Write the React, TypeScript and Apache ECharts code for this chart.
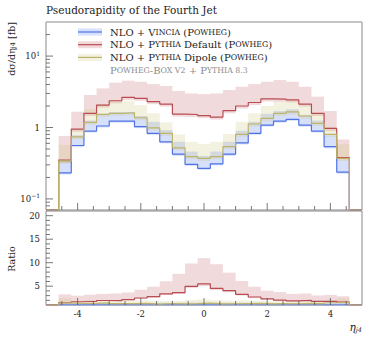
import React, { useEffect, useRef } from "react";
import * as echarts from "echarts";

// ---------- data ----------
const EDGES = [-4.6, -4.2, -3.8, -3.4, -3.0, -2.6, -2.2, -1.8, -1.4, -1.0, -0.6, -0.2, 0.2, 0.6, 1.0, 1.4, 1.8, 2.2, 2.6, 3.0, 3.4, 3.8, 4.2, 4.6];

const vincia = [0.232, 0.56, 0.89, 1.05, 1.23, 1.23, 1.03, 0.83, 0.63, 0.425, 0.305, 0.268, 0.31, 0.425, 0.61, 0.83, 1.08, 1.23, 1.3, 1.08, 0.89, 0.54, 0.238];
const vinciaHi = [0.35, 0.78, 1.25, 1.55, 1.65, 1.65, 1.45, 1.2, 0.92, 0.63, 0.46, 0.4, 0.46, 0.63, 0.9, 1.2, 1.55, 1.7, 1.8, 1.5, 1.25, 0.78, 0.35];
const vinciaLo = [0.22, 0.53, 0.85, 1.0, 1.17, 1.17, 0.98, 0.79, 0.6, 0.4, 0.29, 0.255, 0.295, 0.4, 0.58, 0.79, 1.03, 1.17, 1.24, 1.03, 0.85, 0.51, 0.225];

const pyDef = [0.35, 0.95, 1.58, 2.06, 2.37, 2.64, 2.56, 2.3, 2.13, 1.54, 1.52, 1.47, 1.4, 1.72, 2.0, 2.24, 2.51, 2.49, 2.43, 2.13, 1.58, 0.97, 0.38];
const pyDefHi = [0.76, 1.66, 2.85, 3.53, 4.24, 4.52, 4.37, 4.06, 3.81, 3.24, 3.0, 2.94, 3.0, 3.35, 3.72, 4.06, 4.37, 4.62, 4.37, 3.72, 2.7, 1.7, 0.68];
const pyDefLo = [0.32, 0.87, 1.45, 1.9, 2.18, 2.43, 2.36, 2.12, 1.96, 1.42, 1.4, 1.35, 1.29, 1.58, 1.84, 2.06, 2.31, 2.29, 2.24, 1.96, 1.45, 0.89, 0.35];

const pyDip = [0.34, 0.74, 1.18, 1.53, 1.58, 1.61, 1.37, 0.99, 0.83, 0.52, 0.39, 0.37, 0.39, 0.54, 0.8, 1.12, 1.34, 1.58, 1.65, 1.45, 1.14, 0.8, 0.37];
const pyDipHi = [0.57, 0.95, 1.8, 2.13, 2.37, 2.37, 2.06, 1.58, 1.18, 0.8, 0.63, 0.59, 0.63, 0.81, 1.2, 1.58, 2.0, 2.3, 2.37, 2.06, 1.6, 1.02, 0.58];
const pyDipLo = [0.31, 0.68, 1.09, 1.41, 1.45, 1.48, 1.26, 0.91, 0.76, 0.48, 0.36, 0.34, 0.36, 0.5, 0.74, 1.03, 1.23, 1.45, 1.52, 1.33, 1.05, 0.74, 0.34];

const xMajorTicks = [-4, -2, 0, 2, 4];
const xMinorTicks = [-4.5, -3.5, -3, -2.5, -1.5, -1, -0.5, 0.5, 1, 1.5, 2.5, 3, 3.5, 4.5];
const yMainMajorTicks = [0.1, 1, 10];
const yMainMinorTicks = [0.08, 0.09, 0.2, 0.3, 0.4, 0.5, 0.6, 0.7, 0.8, 0.9, 2, 3, 4, 5, 6, 7, 8, 9, 20];
const yRatioMajorTicks = [5, 10, 15, 20];
const yRatioMinorTicks = [2, 3, 4, 6, 7, 8, 9, 11, 12, 13, 14, 16, 17, 18, 19];

const TITLE = "Pseudorapidity of the Fourth Jet";

// axis ranges
const X_MIN = -5, X_MAX = 5;
const Y_MIN = 0.07, Y_MAX = 30;
const R_MIN = 1, R_MAX = 21;

const FONT = "DejaVu Serif";
const C_BLUE = "#4f72e6", F_BLUE = "rgba(95,130,240,0.25)";
const C_RED = "#b94b52", F_RED = "rgba(190,85,95,0.22)";
const C_YEL = "#bcb36c", F_YEL = "rgba(200,190,110,0.22)";

function ratio(a: number[], ref: number[]) {
  return a.map((v, i) => v / ref[i]);
}

function stepData(vals: number[], floor: number) {
  const pts: number[][] = [[X_MIN, floor]];
  vals.forEach((v, i) => pts.push([EDGES[i], v]));
  pts.push([EDGES[EDGES.length - 1], floor]);
  pts.push([X_MAX, floor]);
  return pts;
}

function bandSeries(lo: number[], hi: number[], fill: string, gi: number) {
  return {
    type: "custom",
    xAxisIndex: gi,
    yAxisIndex: gi,
    silent: true,
    clip: true,
    encode: { x: [0, 1], y: [2, 3] },
    data: lo.map((l, i) => [EDGES[i], EDGES[i + 1], l, hi[i]]),
    renderItem: (params: any, api: any) => {
      const p0 = api.coord([api.value(0), api.value(3)]);
      const p1 = api.coord([api.value(1), api.value(2)]);
      return {
        type: "rect",
        shape: { x: p0[0], y: p0[1], width: p1[0] - p0[0], height: p1[1] - p0[1] },
        style: { fill },
      };
    },
  };
}

function lineSeries(vals: number[], color: string, gi: number, floor: number) {
  return {
    type: "line",
    xAxisIndex: gi,
    yAxisIndex: gi,
    step: "end",
    symbol: "none",
    silent: true,
    lineStyle: { color, width: 1.2 },
    data: stepData(vals, floor),
  };
}

function xTickSeries(gi: number, floor: number) {
  const data = [
    ...xMajorTicks.map((v) => [v, floor, 1]),
    ...xMinorTicks.map((v) => [v, floor, 0]),
  ];
  return {
    type: "custom",
    xAxisIndex: gi,
    yAxisIndex: gi,
    silent: true,
    clip: false,
    z: 10,
    data,
    renderItem: (params: any, api: any) => {
      const p = api.coord([api.value(0), api.value(1)]);
      const len = api.value(2) ? 7 : 4;
      return {
        type: "line",
        shape: { x1: p[0], y1: p[1], x2: p[0], y2: p[1] - len },
        style: { stroke: "#555", lineWidth: 0.8 },
      };
    },
  };
}

function yTickSeries(gi: number, major: number[], minor: number[]) {
  const data = [...major.map((v) => [X_MIN, v, 1]), ...minor.map((v) => [X_MIN, v, 0])];
  return {
    type: "custom",
    xAxisIndex: gi,
    yAxisIndex: gi,
    silent: true,
    clip: false,
    z: 10,
    data,
    renderItem: (params: any, api: any) => {
      const p = api.coord([api.value(0), api.value(1)]);
      const len = api.value(2) ? 7 : 4;
      return {
        type: "line",
        shape: { x1: p[0], y1: p[1], x2: p[0] + len, y2: p[1] },
        style: { stroke: "#555", lineWidth: 0.8 },
      };
    },
  };
}

const legendRows = [
  { text: "NLO + V{sc|INCIA} (P{sc|OWHEG})", line: C_BLUE, fill: F_BLUE },
  { text: "NLO + P{sc|YTHIA} Default (P{sc|OWHEG})", line: C_RED, fill: F_RED },
  { text: "NLO + P{sc|YTHIA} Dipole (P{sc|OWHEG})", line: C_YEL, fill: F_YEL },
];

export default function App() {
  const ref = useRef<HTMLDivElement>(null);
  useEffect(() => {
    if (!ref.current) return;
    const chart = echarts.init(ref.current, null, { renderer: "svg" });

    const rDef = ratio(pyDef, vincia), rDefHi = ratio(pyDefHi, vincia), rDefLo = ratio(pyDefLo, vincia);
    const rDip = ratio(pyDip, vincia), rDipHi = ratio(pyDipHi, vincia), rDipLo = ratio(pyDipLo, vincia);
    const rVin = ratio(vincia, vincia), rVinHi = ratio(vinciaHi, vincia), rVinLo = ratio(vinciaLo, vincia);

    const legendGraphics: any[] = [];
    legendRows.forEach((r, i) => {
      const y = 32 + i * 12.7;
      legendGraphics.push({ type: "rect", shape: { x: 78, y: y - 3.5, width: 24, height: 7 }, style: { fill: r.fill } });
      legendGraphics.push({ type: "line", shape: { x1: 78, y1: y, x2: 102, y2: y }, style: { stroke: r.line, lineWidth: 1.2 } });
      legendGraphics.push({
        type: "text",
        x: 110,
        y,
        style: {
          text: r.text,
          fontFamily: FONT,
          fontSize: 10,
          fill: "#222",
          verticalAlign: "middle",
          align: "left",
          rich: { sc: { fontSize: 7.8, fontFamily: FONT, fill: "#222" } },
        },
      });
    });
    legendGraphics.push({
      type: "text",
      x: 110,
      y: 32 + 3 * 12.7,
      style: {
        text: "P{sc|OWHEG}-B{sc|OX V2} + P{sc|YTHIA 8.3}",
        fontFamily: FONT,
        fontSize: 10,
        fill: "#8c8c8c",
        verticalAlign: "middle",
        align: "left",
        rich: { sc: { fontSize: 7.8, fontFamily: FONT, fill: "#8c8c8c" } },
      },
    });

    const option: any = {
      animation: false,
      backgroundColor: "#fff",
      grid: [
        { left: 46, top: 22, width: 316, height: 188, show: true, borderColor: "#8a8a8a", borderWidth: 1, backgroundColor: "transparent" },
        { left: 46, top: 211, width: 316, height: 94, show: true, borderColor: "#8a8a8a", borderWidth: 1, backgroundColor: "transparent" },
      ],
      xAxis: [
        {
          gridIndex: 0, type: "value", min: X_MIN, max: X_MAX, interval: 1,
          axisLabel: { show: false }, axisTick: { show: false }, axisLine: { show: false }, splitLine: { show: false },
        },
        {
          gridIndex: 1, type: "value", min: X_MIN, max: X_MAX, interval: 1,
          axisLabel: {
            show: true, margin: 4, fontFamily: FONT, fontSize: 8.5, color: "#222",
            formatter: (v: number) => (Math.abs(v) < 4.9 && Math.round(v) % 2 === 0 ? String(Math.round(v)) : ""),
          },
          axisTick: { show: false }, axisLine: { show: false }, splitLine: { show: false },
        },
      ],
      yAxis: [
        {
          gridIndex: 0, type: "log", logBase: 10, min: Y_MIN, max: Y_MAX,
          axisLabel: {
            margin: 6, color: "#222",
            formatter: (v: number) => {
              const e = Math.log10(v);
              const r = Math.round(e);
              if (Math.abs(e - r) > 1e-6) return "";
              if (r === 0) return "{b|1}";
              return "{b|10}{s|" + (r < 0 ? "\u2212" + -r : String(r)) + "}";
            },
            rich: {
              b: { fontFamily: FONT, fontSize: 8.5, lineHeight: 12, color: "#222" },
              s: { fontFamily: FONT, fontSize: 6, lineHeight: 7, verticalAlign: "top", color: "#222" },
            },
          },
          axisTick: { show: false }, axisLine: { show: false }, splitLine: { show: false },
        },
        {
          gridIndex: 1, type: "value", min: R_MIN, max: R_MAX, interval: 1,
          axisLabel: {
            margin: 6, fontFamily: FONT, fontSize: 8.5, color: "#222",
            formatter: (v: number) => (Math.round(v) % 5 === 0 && v > 0 && v < 21 ? String(Math.round(v)) : ""),
          },
          axisTick: { show: false }, axisLine: { show: false }, splitLine: { show: false },
        },
      ],
      series: [
        bandSeries(vinciaLo, vinciaHi, F_BLUE, 0),
        bandSeries(pyDefLo, pyDefHi, F_RED, 0),
        bandSeries(pyDipLo, pyDipHi, F_YEL, 0),
        lineSeries(vincia, C_BLUE, 0, Y_MIN),
        lineSeries(pyDef, C_RED, 0, Y_MIN),
        lineSeries(pyDip, C_YEL, 0, Y_MIN),
        bandSeries(rVinLo, rVinHi, F_BLUE, 1),
        bandSeries(rDefLo, rDefHi, F_RED, 1),
        bandSeries(rDipLo, rDipHi, F_YEL, 1),
        lineSeries(rVin, C_BLUE, 1, R_MIN),
        lineSeries(rDef, C_RED, 1, R_MIN),
        lineSeries(rDip, C_YEL, 1, R_MIN),
        xTickSeries(0, Y_MIN),
        xTickSeries(1, R_MIN),
        yTickSeries(0, yMainMajorTicks, yMainMinorTicks),
        yTickSeries(1, yRatioMajorTicks, yRatioMinorTicks),
      ],
      graphic: [
        {
          type: "text", x: 46, y: 10,
          style: { text: TITLE, fontFamily: FONT, fontSize: 10.5, fill: "#222", verticalAlign: "middle", align: "left" },
        },
        {
          type: "text", x: 11, y: 22, rotation: Math.PI / 2,
          style: {
            text: "d\u03c3/d\u03b7{sub|j4} [fb]", fontFamily: FONT, fontSize: 9.5, fill: "#222",
            align: "right", verticalAlign: "middle",
            rich: { sub: { fontFamily: FONT, fontSize: 6.5, lineHeight: 7, verticalAlign: "bottom", fill: "#222" } },
          },
        },
        {
          type: "text", x: 11, y: 259, rotation: Math.PI / 2,
          style: { text: "Ratio", fontFamily: FONT, fontSize: 9.5, fill: "#222", align: "center", verticalAlign: "middle" },
        },
        {
          type: "text", x: 362, y: 327,
          style: {
            text: "{i|\u03b7}{sub|j4}", align: "right", verticalAlign: "middle",
            rich: {
              i: { fontFamily: FONT, fontSize: 10.5, fontStyle: "italic", fill: "#222", lineHeight: 13 },
              sub: { fontFamily: FONT, fontSize: 6.5, fontStyle: "italic", lineHeight: 7, verticalAlign: "bottom", fill: "#222" },
            },
          },
        },
        ...legendGraphics,
      ],
    };
    chart.setOption(option);
    return () => chart.dispose();
  }, []);
  return <div ref={ref} style={{ position: "fixed", left: 0, top: 0, width: 374, height: 337, background: "#fff" }} />;
}
